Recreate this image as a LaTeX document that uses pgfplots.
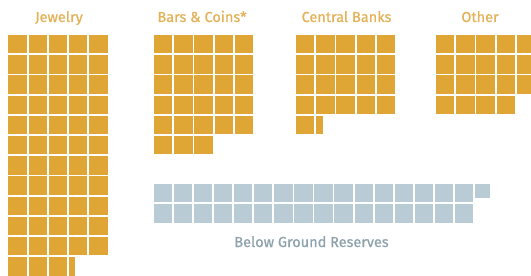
\documentclass[border=0pt]{standalone}
\usepackage{pgfplots}
\usepackage{pgfplotstable}
\pgfplotsset{compat=1.18}
\usepackage{fontspec}
\setmainfont{Fira Sans}
\newfontfamily\tfont{Fira Sans}[FakeBold=0.7]
\definecolor{gold}{HTML}{DFA535}
\definecolor{goldtxt}{HTML}{E3B157}
\definecolor{slate}{HTML}{B9CCD5}
\definecolor{slatetxt}{HTML}{8DA1AC}

% waffle squares: column c, row r, width fraction w, height fraction h
\pgfplotstableread[row sep=\\]{
c r w h\\
0 0 1 1\\ 1 0 1 1\\ 2 0 1 1\\ 3 0 1 1\\ 4 0 1 1\\
0 1 1 1\\ 1 1 1 1\\ 2 1 1 1\\ 3 1 1 1\\ 4 1 1 1\\
0 2 1 1\\ 1 2 1 1\\ 2 2 1 1\\ 3 2 1 1\\ 4 2 1 1\\
0 3 1 1\\ 1 3 1 1\\ 2 3 1 1\\ 3 3 1 1\\ 4 3 1 1\\
0 4 1 1\\ 1 4 1 1\\ 2 4 1 1\\ 3 4 1 1\\ 4 4 1 1\\
0 5 1 1\\ 1 5 1 1\\ 2 5 1 1\\ 3 5 1 1\\ 4 5 1 1\\
0 6 1 1\\ 1 6 1 1\\ 2 6 1 1\\ 3 6 1 1\\ 4 6 1 1\\
0 7 1 1\\ 1 7 1 1\\ 2 7 1 1\\ 3 7 1 1\\ 4 7 1 1\\
0 8 1 1\\ 1 8 1 1\\ 2 8 1 1\\ 3 8 1 1\\ 4 8 1 1\\
0 9 1 1\\ 1 9 1 1\\ 2 9 1 1\\ 3 9 1 1\\ 4 9 1 1\\
0 10 1 1\\ 1 10 1 1\\ 2 10 1 1\\ 3 10 1 1\\ 4 10 1 1\\
0 11 1 1\\ 1 11 1 1\\ 2 11 1 1\\ 3 11 0.35 1\\
}\jewelry

\pgfplotstableread[row sep=\\]{
c r w h\\
0 0 1 1\\ 1 0 1 1\\ 2 0 1 1\\ 3 0 1 1\\ 4 0 1 1\\
0 1 1 1\\ 1 1 1 1\\ 2 1 1 1\\ 3 1 1 1\\ 4 1 1 1\\
0 2 1 1\\ 1 2 1 1\\ 2 2 1 1\\ 3 2 1 1\\ 4 2 1 1\\
0 3 1 1\\ 1 3 1 1\\ 2 3 1 1\\ 3 3 1 1\\ 4 3 1 1\\
0 4 1 1\\ 1 4 1 1\\ 2 4 1 1\\ 3 4 1 1\\ 4 4 1 1\\
0 5 1 1\\ 1 5 1 1\\ 2 5 1 1\\
}\bars

\pgfplotstableread[row sep=\\]{
c r w h\\
0 0 1 1\\ 1 0 1 1\\ 2 0 1 1\\ 3 0 1 1\\ 4 0 1 1\\
0 1 1 1\\ 1 1 1 1\\ 2 1 1 1\\ 3 1 1 1\\ 4 1 1 1\\
0 2 1 1\\ 1 2 1 1\\ 2 2 1 1\\ 3 2 1 1\\ 4 2 1 1\\
0 3 1 1\\ 1 3 1 1\\ 2 3 1 1\\ 3 3 1 1\\ 4 3 1 1\\
0 4 1 1\\ 1 4 0.37 1\\
}\central

\pgfplotstableread[row sep=\\]{
c r w h\\
0 0 1 1\\ 1 0 1 1\\ 2 0 1 1\\ 3 0 1 1\\ 4 0 1 1\\
0 1 1 1\\ 1 1 1 1\\ 2 1 1 1\\ 3 1 1 1\\ 4 1 1 1\\
0 2 1 1\\ 1 2 1 1\\ 2 2 1 1\\ 3 2 1 1\\ 4 2 1 1\\
0 3 1 1\\ 1 3 1 1\\ 2 3 1 1\\ 3 3 1 1\\
}\other

\pgfplotstableread[row sep=\\]{
c r w h\\
0 0 1 1\\ 1 0 1 1\\ 2 0 1 1\\ 3 0 1 1\\ 4 0 1 1\\ 5 0 1 1\\ 6 0 1 1\\ 7 0 1 1\\
8 0 1 1\\ 9 0 1 1\\ 10 0 1 1\\ 11 0 1 1\\ 12 0 1 1\\ 13 0 1 1\\ 14 0 1 1\\ 15 0 1 1\\
16 0 0.82 0.78\\
0 1 1 1\\ 1 1 1 1\\ 2 1 1 1\\ 3 1 1 1\\ 4 1 1 1\\ 5 1 1 1\\ 6 1 1 1\\ 7 1 1 1\\
8 1 1 1\\ 9 1 1 1\\ 10 1 1 1\\ 11 1 1 1\\ 12 1 1 1\\ 13 1 1 1\\ 14 1 1 1\\ 15 1 1 1\\
}\below

\pgfdeclareplotmark{waf}{%
  \pgfsetcornersarced{\pgfpoint{2.6bp}{2.6bp}}%
  \pgfmathsetmacro\wsq{\wf*18.4}%
  \pgfmathsetmacro\hsq{\hf*18.4}%
  \pgfpathmoveto{\pgfpoint{0bp}{-\hsq bp}}%
  \pgfpathlineto{\pgfpoint{\wsq bp}{-\hsq bp}}%
  \pgfpathlineto{\pgfpoint{\wsq bp}{0bp}}%
  \pgfpathlineto{\pgfpoint{0bp}{0bp}}%
  \pgfpathclose
  \pgfusepathqfill}

\begin{document}
\begin{tikzpicture}
\begin{axis}[
  width=531bp, height=276bp, scale only axis,
  xmin=0, xmax=531, ymin=0, ymax=276, y dir=reverse,
  hide axis, clip=true,
  every axis plot/.append style={only marks, mark=waf,
    visualization depends on={\thisrow{w} \as \wf},
    visualization depends on={\thisrow{h} \as \hf}},
]
\addplot[gold, mark options={fill=gold, draw=none}] table[x expr=\thisrow{c}*20.2+8.3, y expr=\thisrow{r}*20.2+35] {\jewelry};
\addplot[gold, mark options={fill=gold, draw=none}] table[x expr=\thisrow{c}*20.2+154, y expr=\thisrow{r}*20.2+35] {\bars};
\addplot[gold, mark options={fill=gold, draw=none}] table[x expr=\thisrow{c}*20.2+296, y expr=\thisrow{r}*20.2+35] {\central};
\addplot[gold, mark options={fill=gold, draw=none}] table[x expr=\thisrow{c}*20.2+436, y expr=\thisrow{r}*20.2+35] {\other};
\addplot[slate, mark options={fill=slate, draw=none}] table[x expr=\thisrow{c}*20.1+153.5, y expr=\thisrow{r}*20.2+184] {\below};

\node[anchor=base, text=goldtxt, font=\tfont\fontsize{14.5bp}{16bp}\selectfont] at (axis cs:59,22) {Jewelry};
\node[anchor=base, text=goldtxt, font=\tfont\fontsize{14.5bp}{16bp}\selectfont] at (axis cs:202,22) {Bars \& Coins*};
\node[anchor=base, text=goldtxt, font=\tfont\fontsize{14.5bp}{16bp}\selectfont] at (axis cs:346.5,22) {Central Banks};
\node[anchor=base, text=goldtxt, font=\tfont\fontsize{14.5bp}{16bp}\selectfont] at (axis cs:480,22) {Other};
\node[anchor=base, text=slatetxt, font=\tfont\fontsize{14.5bp}{16bp}\selectfont] at (axis cs:311.5,247) {Below Ground Reserves};
\end{axis}
\pgfresetboundingbox
\path (current axis.south west) rectangle (current axis.north east);
\end{tikzpicture}
\end{document}
